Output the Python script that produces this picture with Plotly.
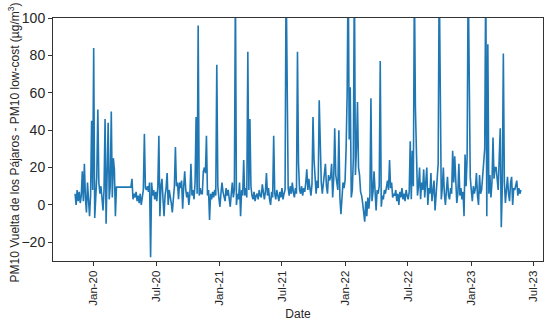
import pandas as pd
import plotly.graph_objects as go

# Difference series, sampled every 3 days starting 2019-11-09 (None = missing data)
seg_a = [6, 0, 8, 2, 7, 1, 5, 18, 2, 22, 4, -4, 12, 3, -6, 5, 45, 8, 84, -7,
         10, 15, 51, 12, 6, 10, 4, -3, 8, 46, -10, 20, 44, 3, 10, 50, 4, 25, 19, -6,
         9.5, None, None, None, None, None, None, None, None, None, None, None, None, None,
         9.5, 14, 3, 6, 4, 7, 2]
seg_b = [5, 1, 6, 0, 4, 8, 38, 9, 8, 10, 7, 12, -28, 12, 5, 8, 3, 7, 2, 10,
         37, -6, 10, 14, 3, -6, 5, 9, 17, 0, 8, 5, 1, -4, 6, 10, 31, 10, 12, 3,
         12, 9, 13, -2, 10, 18, 8, 4, 7, 0, 6, 22, 5, 8, 3, 12, 47, 6, 96, 5,
         9, 6]
seg_c = [6, 18, 20, 17, 37, 5, 8, -8, 6, 3, 7, 4, 8, 5, 75, 10, 4, -1, 6, 12,
         7, 4, 2, 9, 5, 8, 3, -1, 6, 12, 4, 8, 118, 0, 6, 3, 12, -6, 8, 5,
         24, 5, 9, 4, 82, 8, 46, 10, 5, 3, 7, 2, 5, 6, 3, 8, 5, 4, 11, 6,
         3, 7]
seg_d = [17, 5, 9, 3, 0, 7, 4, 37, 6, 3, 8, 5, 2, 7, 4, 9, 3, 6, 8, 125,
         40, 9, 5, 10, 6, 12, 7, 4, 9, 6, 82, 22, 8, 6, 10, 5, 9, 7, 12, 19,
         8, 14, 9, 5, 11, 47, 24, 10, 6, 13, 9, 56, 26, 12, 6, 11, 15, 22, 10, 6,
         16, 13]
seg_e = [15, 22, 4, 14, 41, 16, 12, 8, 40, 4, -5, 7, 12, 9, 13, 30, 59, 130, 35, 63,
         4, 8, 25, 125, 16, 30, 55, 20, 16, 7, 5, 1, -3, -9, 2, -6, 4, -2, 5, 57,
         2, 7, 18, 4, -3, 8, 6, 10, 77, -1, 5, 3, 8, 6, 10, 13, 8, 24, 9, 12,
         4, 6]
seg_f = [5, 8, 2, 6, 0, 7, 4, 9, 3, 6, 2, 8, 5, 3, 7, 34, 3, 29, 10, 120,
         52, 15, 5, 10, 20, 3, 12, 8, 19, 4, 10, 20, 0, 9, 6, 17, 2, 8, 13, -3,
         7, 18, 22, 125, 57, 3, 9, 20, 6, 0, 8, 15, 5, 3, 9, 6, 29, 12, 26, 8,
         1, 6]
seg_g = [22, 5, 9, 3, 7, -6, 27, 10, 26, 125, 82, 15, 8, 2, 10, 6, 9, 17, 5, 0,
         16, 6, 8, None, None, 30, 125, -6, 86, 6, 16, 4, 12, 36, 14, 20, 20, 13, 8, 25,
         41, -12, 10, 81, 12, 1, 8, 15, 6, 2, 12, 15, 0, 9, 8, 11, 13, 5, 9, 6,
         8]

values = seg_a + seg_b + seg_c + seg_d + seg_e + seg_f + seg_g
dates = pd.date_range("2019-11-09", periods=len(values), freq="3D")

tick_dates = ["2020-01-01", "2020-07-01", "2021-01-01", "2021-07-01",
              "2022-01-01", "2022-07-01", "2023-01-01", "2023-07-01"]
tick_labels = ["Jan-20", "Jul-20", "Jan-21", "Jul-21", "Jan-22", "Jul-22", "Jan-23", "Jul-23"]
y_ticks = [-20, 0, 20, 40, 60, 80, 100]
y_title = "PM10 Vuelta de los Pájaros - PM10 low-cost (µg/m<sup>3</sup>)"

fig = go.Figure()
fig.add_trace(go.Scatter(x=dates, y=values, mode="lines", connectgaps=True,
                         line=dict(color="#1f77b4", width=1.6), showlegend=False))

font = "Liberation Sans, Arial, sans-serif"
fig.update_layout(
    width=550, height=323,
    margin=dict(l=53, r=7, t=18, b=62, autoexpand=False),
    paper_bgcolor="white", plot_bgcolor="white",
    font=dict(family=font, color="#262626", size=12),
)
fig.update_xaxes(
    range=["2019-09-06", "2023-07-28"],
    tickvals=tick_dates, ticktext=tick_labels, tickangle=-90,
    tickfont=dict(size=11.5), ticks="outside", ticklen=4, tickcolor="#333",
    showgrid=False, zeroline=False, showline=True, mirror=True,
    linecolor="#333", linewidth=1,
    title=dict(text="Date", font=dict(size=12), standoff=4),
)
fig.update_yaxes(
    range=[-30, 100], tickvals=y_ticks,
    tickfont=dict(size=14), ticks="outside", ticklen=4, tickcolor="#333",
    showgrid=False, zeroline=False, showline=True, mirror=True,
    linecolor="#333", linewidth=1,
)
fig.add_annotation(
    text=y_title, textangle=-90, xref="paper", yref="paper",
    x=0, y=0.5, xanchor="center", yanchor="middle", xshift=-40, yshift=-3,
    showarrow=False, font=dict(size=12, color="#262626"),
)

fig.write_html("out.html", config={"displayModeBar": False},
               post_script="document.body.style.margin='0';")
